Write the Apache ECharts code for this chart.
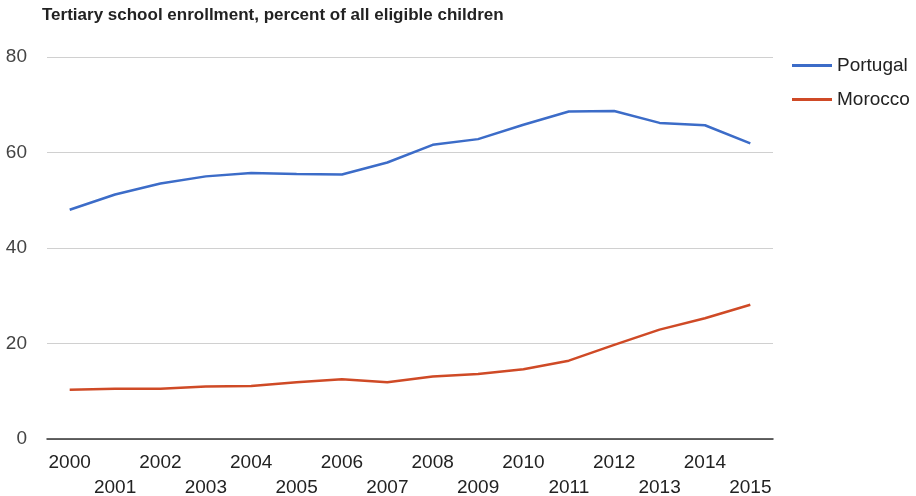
<!DOCTYPE html>
<html>
<head>
<meta charset="utf-8">
<script src="https://cdn.jsdelivr.net/npm/echarts@6/dist/echarts.min.js"></script>
<style>html,body{margin:0;padding:0;background:#fff}#chart{width:916px;height:496px}</style>
</head>
<body>
<div id="chart"></div>
<script>
const years = ['2000','2001','2002','2003','2004','2005','2006','2007','2008','2009','2010','2011','2012','2013','2014','2015'];
const portugal = [48.0, 51.2, 53.5, 55.0, 55.7, 55.5, 55.4, 57.9, 61.6, 62.8, 65.8, 68.6, 68.7, 66.2, 65.7, 61.9];
const morocco = [10.3, 10.5, 10.5, 11.0, 11.1, 11.9, 12.5, 11.9, 13.1, 13.6, 14.6, 16.4, 19.7, 22.9, 25.3, 28.1];
const yTicks = [0, 20, 40, 60, 80];

const chart = echarts.init(document.getElementById('chart'));
const font = '"Liberation Sans", Arial, sans-serif';
chart.setOption({
  animation: false,
  title: {
    text: 'Tertiary school enrollment, percent of all eligible children',
    left: 37, top: 2,
    textStyle: { fontFamily: font, fontSize: 17, fontWeight: 'bold', color: '#222' }
  },
  legend: {
    orient: 'vertical', left: 787, top: 51, itemGap: 15,
    itemWidth: 40, itemHeight: 3, icon: 'rect',
    textStyle: { fontFamily: font, fontSize: 19, color: '#222' },
    data: ['Portugal', 'Morocco']
  },
  grid: { left: 47, right: 143, top: 57, bottom: 57, outerBoundsMode: 'none', containLabel: false },
  xAxis: {
    type: 'category', data: years, boundaryGap: true,
    axisLine: { lineStyle: { color: '#333', width: 1.5 } },
    axisTick: { show: false },
    axisLabel: {
      interval: 0, margin: 11, fontFamily: font, fontSize: 19, color: '#222', lineHeight: 25,
      formatter: (v, i) => i % 2 ? '\n' + v : v
    }
  },
  yAxis: {
    type: 'value', min: yTicks[0], max: yTicks[yTicks.length - 1], interval: 20,
    axisLine: { show: false }, axisTick: { show: false },
    axisLabel: { margin: 20, fontFamily: font, fontSize: 19, color: '#444' },
    splitLine: { lineStyle: { color: '#d0d0d0' } }
  },
  series: [
    { name: 'Portugal', type: 'line', data: portugal, symbol: 'none', color: '#3c6cc8', lineStyle: { width: 2.5 } },
    { name: 'Morocco', type: 'line', data: morocco, symbol: 'none', color: '#cf4a26', lineStyle: { width: 2.5 } }
  ]
});
</script>
</body>
</html>
